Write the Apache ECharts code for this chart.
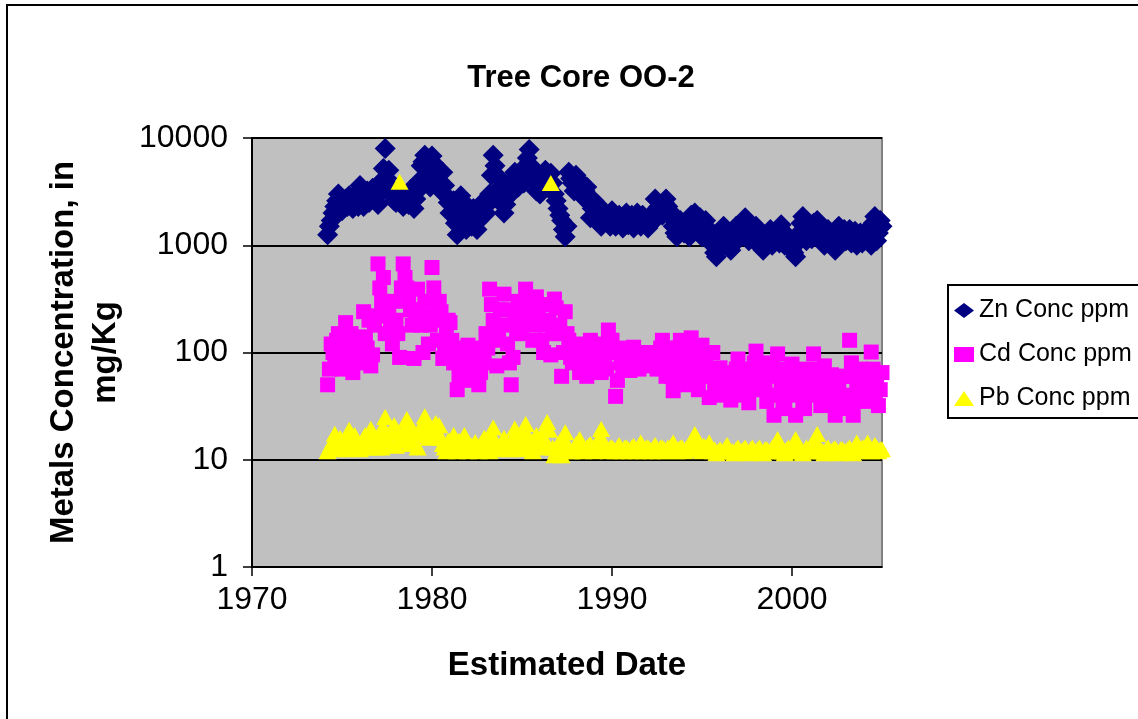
<!DOCTYPE html>
<html>
<head>
<meta charset="utf-8">
<script src="https://cdn.jsdelivr.net/npm/echarts@6/dist/echarts.min.js"></script>
<style>
html,body{margin:0;padding:0;background:#fff;}
#chart{width:1138px;height:719px;}
</style>
</head>
<body>
<div id="chart"></div>
<script>
// ---- data ----
var dates = [
  1974.2,1974.4,1974.6,1974.8,
  1975.0,1975.2,1975.4,1975.6,1975.8,
  1976.0,1976.2,1976.4,1976.6,1976.8,
  1977.0,1977.2,1977.4,1977.6,1977.8,
  1978.0,1978.2,1978.4,1978.6,1978.8,
  1979.0,1979.2,1979.4,1979.6,1979.8,
  1980.0,1980.2,1980.4,1980.6,1980.8,
  1981.0,1981.2,1981.4,1981.6,1981.8,
  1982.0,1982.2,1982.4,1982.6,1982.8,
  1983.0,1983.2,1983.4,1983.6,1983.8,
  1984.0,1984.2,1984.4,1984.6,1984.8,
  1985.0,1985.2,1985.4,1985.6,1985.8,
  1986.0,1986.2,1986.4,1986.6,1986.8,
  1987.0,1987.2,1987.4,1987.6,1987.8,
  1988.0,1988.2,1988.4,1988.6,1988.8,
  1989.0,1989.2,1989.4,1989.6,1989.8,
  1990.0,1990.2,1990.4,1990.6,1990.8,
  1991.0,1991.2,1991.4,1991.6,1991.8,
  1992.0,1992.2,1992.4,1992.6,1992.8,
  1993.0,1993.2,1993.4,1993.6,1993.8,
  1994.0,1994.2,1994.4,1994.6,1994.8,
  1995.0,1995.2,1995.4,1995.6,1995.8,
  1996.0,1996.2,1996.4,1996.6,1996.8,
  1997.0,1997.2,1997.4,1997.6,1997.8,
  1998.0,1998.2,1998.4,1998.6,1998.8,
  1999.0,1999.2,1999.4,1999.6,1999.8,
  2000.0,2000.2,2000.4,2000.6,2000.8,
  2001.0,2001.2,2001.4,2001.6,2001.8,
  2002.0,2002.2,2002.4,2002.6,2002.8,
  2003.0,2003.2,2003.4,2003.6,2003.8,
  2004.0,2004.2,2004.4,2004.6,2004.8,
  2005.0
];
var znConc = [
  1250,1700,2300,3000,
  2100,2700,2900,2200,2600,
  3600,2300,3200,2700,3300,
  2400,4000,8000,5000,3000,
  2500,3100,2300,2700,3300,
  2200,3200,5500,6900,4500,
  6800,5500,3800,4800,2900,
  2000,2600,1250,2900,1600,
  2300,1500,2000,1700,2500,
  2000,3000,6900,4500,3500,
  2000,2800,4000,4800,3500,
  4500,5500,7800,4600,3200,
  3000,4300,3600,4700,3000,
  2200,1700,1200,4800,3800,
  4500,4000,2800,3500,1800,
  2600,2400,1500,2000,1700,
  2100,1500,1900,1450,2000,
  1700,1450,2000,1500,1800,
  1450,1600,2700,2300,1900,
  2700,2100,1500,1200,1700,
  1300,1600,1900,2000,1500,
  1200,1700,1400,1000,780,
  1100,1500,1300,900,1200,
  1400,1600,1800,1100,1300,
  1500,1000,900,1200,1400,
  1100,1300,1550,1000,1200,
  900,780,1300,1850,1100,
  1400,1600,1700,1200,1000,
  1400,1200,900,1500,1300,
  1100,1400,1200,1000,1300,
  1100,1400,1000,1850,1300,
  1500
];
var cdConc = [
  50,120,90,150,
  70,190,100,65,130,
  80,240,110,75,180,
  670,300,150,220,120,
  200,90,670,400,250,
  88,390,180,300,120,
  620,200,300,88,150,
  190,80,45,110,70,
  117,55,90,50,80,
  150,390,200,75,250,
  350,120,50,200,300,
  150,390,250,130,330,
  200,100,280,95,315,
  150,60,240,130,80,
  120,65,100,60,130,
  75,110,65,90,162,
  130,39,100,70,110,
  68,112,80,100,75,
  100,80,95,75,130,
  60,110,44,90,130,
  70,50,137,60,45,
  117,80,38,100,55,
  72,40,60,36,50,
  87,45,70,34,60,
  103,50,80,35,65,
  26,97,45,30,60,
  78,26,50,35,70,
  40,97,55,32,75,
  45,62,26,50,35,
  60,130,26,45,70,
  35,55,101,40,32,
  65
];
var pbConc = [
  12,14,17.5,12.5,
  14,12.5,19,13,15,
  12.5,16,13,19.5,14,
  16,13,25,15,18,
  13.5,3900,17,24,14,
  18,13,20,25.5,16,
  19,22,21,14,12,
  15,17,12,14,17,
  12,13.5,14.6,12,13,
  15,12,20,14,12.5,
  16,13,14.5,19.6,12.5,
  15,21.6,14,12,17,
  13,16,22.5,3800,11,
  14,11,18,13,12,
  14,15.6,12,13,14,
  12,13,19.4,13,12,
  13,12,13.7,12,13,
  12,13.5,12,14.5,12,
  13,12,13.7,12,13,
  12,13,14.5,12,13,
  12,13,12.5,17.4,13,
  12,13,14.5,12,11.5,
  12.5,12,13.7,12,11.5,
  13,12,13,11.5,13,
  12,13,11.5,12.5,12,
  13,15.6,12,11.5,13,
  12,15.6,12,11.5,13,
  12,13,17.4,12,11.5,
  13,12,12.8,11.5,12.5,
  12,13,11.5,14.5,12,
  13,14.5,12,13.7,12,
  12.5
];
// second set of samples, taken between the dates above
var datesB = [
  1974.3,1974.5,1974.7,1974.9,
  1975.1,1975.3,1975.5,1975.7,1975.9,
  1976.1,1976.3,1976.5,1976.7,1976.9,
  1977.1,1977.3,1977.5,1977.7,1977.9,
  1978.1,1978.3,1978.5,1978.7,1978.9,
  1979.1,1979.3,1979.5,1979.7,1979.9,
  1980.1,1980.3,1980.5,1980.7,1980.9,
  1981.1,1981.3,1981.5,1981.7,1981.9,
  1982.1,1982.3,1982.5,1982.7,1982.9,
  1983.1,1983.3,1983.5,1983.7,1983.9,
  1984.1,1984.3,1984.5,1984.7,1984.9,
  1985.1,1985.3,1985.5,1985.7,1985.9,
  1986.1,1986.3,1986.5,1986.7,1986.9,
  1987.1,1987.3,1987.5,1987.7,1987.9,
  1988.1,1988.3,1988.5,1988.7,1988.9,
  1989.1,1989.3,1989.5,1989.7,1989.9,
  1990.1,1990.3,1990.5,1990.7,1990.9,
  1991.1,1991.3,1991.5,1991.7,1991.9,
  1992.1,1992.3,1992.5,1992.7,1992.9,
  1993.1,1993.3,1993.5,1993.7,1993.9,
  1994.1,1994.3,1994.5,1994.7,1994.9,
  1995.1,1995.3,1995.5,1995.7,1995.9,
  1996.1,1996.3,1996.5,1996.7,1996.9,
  1997.1,1997.3,1997.5,1997.7,1997.9,
  1998.1,1998.3,1998.5,1998.7,1998.9,
  1999.1,1999.3,1999.5,1999.7,1999.9,
  2000.1,2000.3,2000.5,2000.7,2000.9,
  2001.1,2001.3,2001.5,2001.7,2001.9,
  2002.1,2002.3,2002.5,2002.7,2002.9,
  2003.1,2003.3,2003.5,2003.7,2003.9,
  2004.1,2004.3,2004.5,2004.7,2004.9
];
var znConcB = [
  1500,2000,2600,2400,
  2500,2300,2600,2900,2300,
  2800,3000,2500,3400,2800,
  3000,5200,4200,3500,2600,
  2900,2500,2900,2400,2600,
  2700,4000,6000,5000,3500,
  5800,4500,3200,3600,2500,
  2400,1600,1900,2200,1400,
  1800,2200,1400,2100,1900,
  2400,4500,5500,2600,2800,
  2400,3500,3200,3800,4200,
  3800,6500,5500,4000,3800,
  3500,5000,4000,3800,2600,
  1900,1400,1500,4200,3200,
  4000,3000,3200,2500,2200,
  2000,2200,1800,1800,1500,
  1700,1800,1600,1700,1550,
  1900,1600,1700,1900,1600,
  1600,2000,2200,2000,2500,
  2300,1800,1300,1400,1500,
  1500,1200,1700,1400,1800,
  1500,1300,1100,850,900,
  1300,1200,1100,1000,1500,
  1200,1400,1300,1500,1100,
  1250,1150,1100,1300,1000,
  1200,1050,1350,1150,1000,
  850,1050,1600,1400,1250,
  1150,1300,1450,1350,1150,
  1200,1050,1100,1250,1400,
  1250,1050,1350,1150,1050,
  1250,1150,1600,1100,1700
];
var cdConcB = [
  70,100,130,110,
  95,120,150,85,100,
  110,140,200,95,220,
  400,500,250,180,300,
  150,400,500,300,180,
  200,250,100,220,180,
  400,130,240,110,200,
  130,100,60,80,95,
  90,70,110,65,100,
  110,280,130,160,180,
  250,80,90,150,220,
  260,200,300,180,250,
  130,180,200,150,260,
  180,100,150,90,110,
  85,90,80,110,95,
  95,80,120,70,130,
  100,55,80,95,85,
  90,95,70,85,95,
  85,100,70,110,90,
  80,60,70,110,55,
  95,70,100,80,60,
  90,60,70,45,65,
  55,65,45,42,70,
  60,40,55,45,80,
  70,45,55,40,75,
  40,60,35,70,45,
  55,40,65,30,50,
  60,45,70,40,55,
  55,35,45,30,60,
  40,80,35,55,40,
  60,45,70,50,45
];
var pbConcB = [
  13,15,13,16,
  13,16,14,17,13,
  14,17,14,16,13,
  18,20,16,14,21,
  15,16,20,17,19,
  14,17,22,18,20,
  17,18,16,13,15,
  13,14,15,13,15,
  13,12.5,13,14,16,
  13,17,15,13,14,
  14,12.5,16,15,13,
  18,17,13,14,15,
  17,14,19,13,12,
  12.5,15,14,12,13,
  13,14,12.5,13.5,12.5,
  13,16,15,12.5,13,
  12.5,13,12.5,13,12.5,
  13,12.5,13.5,12.5,13,
  12.5,13,12.5,13,12.5,
  13,13.5,12.5,12.5,13,
  12.5,13,14,15,12.5,
  13.5,12.5,13,12.5,12,
  12,13,12.5,12,12.5,
  12,12.5,12,12.5,12,
  12.5,12,12.5,12,13,
  14,13,12,12.5,12,
  13.5,13,12.5,12,12.5,
  14,15,13,12,12.5,
  12,12.5,12,12.5,12,
  12.5,12,13,12.5,13,
  12.5,13,12.5,13,12.5
];
var seriesNames = ['Zn Conc ppm', 'Cd Conc ppm', 'Pb Conc ppm'];
var xTickValues = [1970, 1980, 1990, 2000];
var yTickValues = [1, 10, 100, 1000, 10000];

function pairs(ds, vals) {
  var out = [];
  for (var i = 0; i < ds.length; i++) out.push([ds[i], vals[i]]);
  return out;
}
function both(a, b) { return pairs(dates, a).concat(pairs(datesB, b)); }

var FONT = '"Liberation Sans", Arial, Helvetica, sans-serif';
var plain = function (v) { return String(v); };
var chart = echarts.init(document.getElementById('chart'), null, {renderer: 'canvas'});
chart.setOption({
  animation: false,
  backgroundColor: '#ffffff',
  title: {
    text: 'Tree Core OO-2',
    left: 576, top: 58, textAlign: 'center',
    textStyle: {fontFamily: FONT, fontWeight: 'bold', fontSize: 31, color: '#000'}
  },
  graphic: [{
    type: 'rect', shape: {x: 7, y: 5, width: 1140, height: 730},
    style: {fill: 'none', stroke: '#000', lineWidth: 2}, silent: true, z: -1
  }],
  legend: {
    orient: 'vertical', left: 948, top: 285,
    padding: [13, 8, 7, 6],
    itemGap: 19, itemWidth: 20, itemHeight: 15,
    symbolKeepAspect: true,
    borderColor: '#000', borderWidth: 2, backgroundColor: '#fff',
    textStyle: {fontFamily: FONT, fontSize: 25, color: '#000', lineHeight: 25},
    data: [
      {name: seriesNames[0], icon: 'diamond'},
      {name: seriesNames[1], icon: 'rect'},
      {name: seriesNames[2], icon: 'triangle'}
    ]
  },
  grid: {
    left: 252, top: 138, width: 630, height: 429,
    show: true, backgroundColor: '#C0C0C0', borderColor: '#808080', borderWidth: 2
  },
  xAxis: {
    type: 'value', min: 1970, max: 2005, interval: 10,
    name: 'Estimated Date', nameLocation: 'middle', nameGap: 82,
    nameTextStyle: {fontFamily: FONT, fontWeight: 'bold', fontSize: 33, color: '#000'},
    axisLine: {show: true, onZero: false, lineStyle: {color: '#000', width: 1.5}},
    axisTick: {show: true, inside: false, length: 9, customValues: xTickValues, lineStyle: {color: '#000', width: 1.5}},
    axisLabel: {margin: 17, customValues: xTickValues, formatter: plain, fontFamily: FONT, fontSize: 32, color: '#000'},
    splitLine: {show: false}
  },
  yAxis: {
    type: 'log', logBase: 10, min: 1, max: 10000,
    name: 'Metals Concentration, in\nmg/Kg', nameLocation: 'middle', nameRotate: 90, nameGap: 125,
    nameTextStyle: {fontFamily: FONT, fontWeight: 'bold', fontSize: 33, lineHeight: 42, color: '#000', align: 'center'},
    axisLine: {show: true, lineStyle: {color: '#000', width: 2}},
    axisTick: {show: true, inside: false, length: 9, customValues: yTickValues, lineStyle: {color: '#000', width: 1.5}},
    axisLabel: {margin: 24, customValues: yTickValues, formatter: plain, fontFamily: FONT, fontSize: 32, color: '#000'},
    splitLine: {show: true, lineStyle: {color: '#000', width: 2}}
  },
  series: [
    {name: seriesNames[0], type: 'scatter', symbol: 'diamond', symbolSize: 21,
     itemStyle: {color: '#000080', opacity: 1}, data: both(znConc, znConcB), z: 2},
    {name: seriesNames[1], type: 'scatter', symbol: 'rect', symbolSize: 15,
     itemStyle: {color: '#FF00FF', opacity: 1}, data: both(cdConc, cdConcB), z: 3},
    {name: seriesNames[2], type: 'scatter', symbol: 'triangle', symbolSize: [18, 16],
     itemStyle: {color: '#FFFF00', opacity: 1}, data: both(pbConc, pbConcB), z: 4}
  ]
});
</script>
</body>
</html>
